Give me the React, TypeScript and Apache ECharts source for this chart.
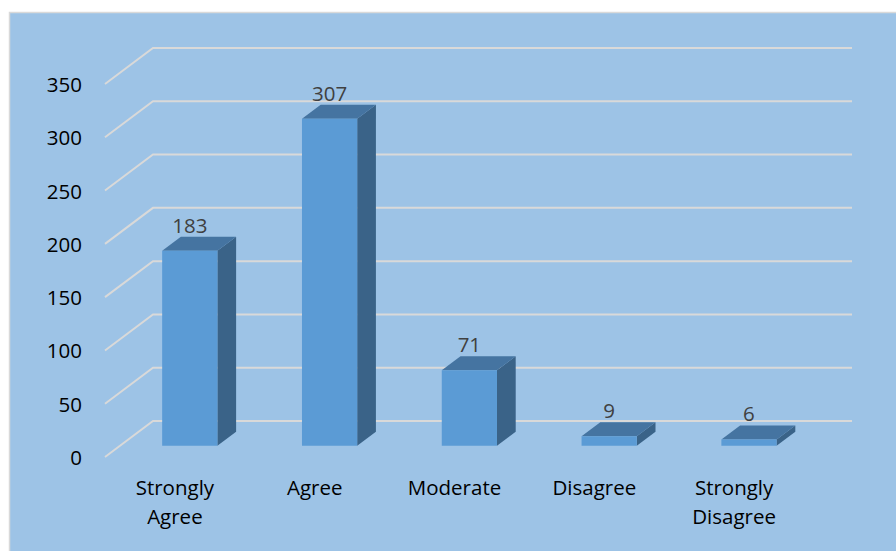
import React, { useEffect, useRef } from "react";
import * as echarts from "echarts";

const categories = ["Strongly\nAgree", "Agree", "Moderate", "Disagree", "Strongly\nDisagree"];
const values = [183, 307, 71, 9, 6];
const yTicks = [0, 50, 100, 150, 200, 250, 300, 350];

const FONT = "Open Sans";
const FS = 20.5;

export default function App() {
  const ref = useRef<HTMLDivElement>(null);
  useEffect(() => {
    const chart = echarts.init(ref.current as HTMLDivElement, null, { renderer: "svg" });
    const DX = 48;
    const DY = 36;
    const F0 = 0.31;
    const F1 = 0.7;
    chart.setOption({
      animation: false,
      graphic: [
        {
          type: "rect",
          z: -10,
          silent: true,
          shape: { x: 9.5, y: 12.5, width: 900, height: 560 },
          style: { fill: "#9DC3E6", stroke: "#D9D9D9", lineWidth: 1.5 },
        },
      ],
      grid: { left: 105, top: 84, width: 699, height: 373 },
      xAxis: {
        type: "category",
        data: categories,
        axisLine: { show: false },
        axisTick: { show: false },
        splitLine: { show: false },
        axisLabel: { margin: 15, fontSize: FS, lineHeight: 29, color: "#000", fontFamily: FONT },
      },
      yAxis: {
        type: "value",
        min: 0,
        max: 350,
        interval: 50,
        axisLine: { show: false },
        axisTick: { show: false },
        splitLine: { show: false },
        axisLabel: { margin: 23, fontSize: FS, color: "#000", fontFamily: FONT },
      },
      series: [
        {
          type: "custom",
          z: 1,
          silent: true,
          data: yTicks.map((v) => [0, v]),
          renderItem: (params: any, api: any) => {
            const cs = params.coordSys;
            const y = api.coord([0, api.value(1)])[1];
            return {
              type: "polyline",
              shape: {
                points: [
                  [cs.x, y],
                  [cs.x + DX, y - DY],
                  [cs.x + cs.width + DX, y - DY],
                ],
              },
              style: { stroke: "#D9D9D9", lineWidth: 2, fill: null },
            };
          },
        },
        {
          type: "custom",
          z: 2,
          data: values.map((v, i) => [i, v]),
          renderItem: (params: any, api: any) => {
            const i = api.value(0);
            const v = api.value(1);
            const p = api.coord([i, v]);
            const y0 = api.coord([i, 0])[1];
            const bw = api.size([1, 0])[0] * 0.395;
            const fx = F0 * DX;
            const fy = F0 * DY;
            const ddx = (F1 - F0) * DX;
            const ddy = (F1 - F0) * DY;
            const L = p[0] - bw / 2 + fx;
            const R = L + bw;
            const top = p[1] - fy;
            const bottom = y0 - fy;
            return {
              type: "group",
              children: [
                {
                  type: "polygon",
                  shape: {
                    points: [
                      [R, top],
                      [R + ddx, top - ddy],
                      [R + ddx, bottom - ddy],
                      [R, bottom],
                    ],
                  },
                  style: { fill: "#3A6388" },
                },
                {
                  type: "polygon",
                  shape: {
                    points: [
                      [L, top],
                      [R, top],
                      [R + ddx, top - ddy],
                      [L + ddx, top - ddy],
                    ],
                  },
                  style: { fill: "#4574A1" },
                },
                {
                  type: "rect",
                  shape: { x: L, y: top, width: bw, height: bottom - top },
                  style: { fill: "#5B9BD5" },
                },
                {
                  type: "text",
                  style: {
                    text: String(v),
                    x: L + bw / 2,
                    y: top - ddy - 12,
                    align: "center",
                    verticalAlign: "middle",
                    fontSize: FS,
                    fontFamily: FONT,
                    fill: "#404040",
                  },
                },
              ],
            };
          },
        },
      ],
    });
    return () => chart.dispose();
  }, []);
  return (
    <div
      ref={ref}
      style={{ position: "fixed", left: 0, top: 0, width: 896, height: 551, background: "#fff" }}
    />
  );
}
